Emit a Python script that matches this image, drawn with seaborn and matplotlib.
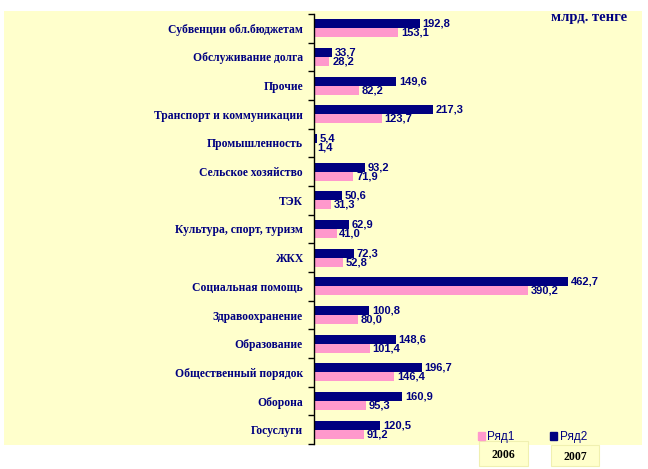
import numpy as np
import pandas as pd
import matplotlib
matplotlib.use('Agg')
import matplotlib.pyplot as plt
import matplotlib.patches as mpatches
import seaborn as sns

categories = ['Субвенции обл.бюджетам', 'Обслуживание долга', 'Прочие',
              'Транспорт и коммуникации', 'Промышленность', 'Сельское хозяйство',
              'ТЭК', 'Культура, спорт, туризм', 'ЖКХ', 'Социальная помощь',
              'Здравоохранение', 'Образование', 'Общественный порядок',
              'Оборона', 'Госуслуги']
row1_2006 = [153.1, 28.2, 82.2, 123.7, 1.4, 71.9, 31.3, 41.0, 52.8, 390.2,
             80.0, 101.4, 146.4, 95.3, 91.2]
row2_2007 = [192.8, 33.7, 149.6, 217.3, 5.4, 93.2, 50.6, 62.9, 72.3, 462.7,
             100.8, 148.6, 196.7, 160.9, 120.5]
series_names = ['Ряд1', 'Ряд2']
year_labels = ['2006', '2007']

navy = '#000080'
pink = '#FF99CC'
yellow = '#FFFFCC'

df = pd.DataFrame({'cat': categories * 2,
                   'val': row1_2006 + row2_2007,
                   'ser': ['Ряд1'] * len(categories) + ['Ряд2'] * len(categories)})

fig = plt.figure(figsize=(6.48, 4.69), dpi=100)
fig.patch.set_facecolor('white')
# yellow chart area
fig.patches.append(mpatches.Rectangle((4 / 648, 1 - 445 / 469), 638 / 648, 434 / 469,
                                      transform=fig.transFigure, facecolor=yellow,
                                      edgecolor='none', zorder=-10))

ax = fig.add_axes([314 / 648, 1 - 444 / 469, 326 / 648, 430 / 469])
ax.set_facecolor('none')
ax.patch.set_alpha(0)
sns.barplot(data=df, x='val', y='cat', hue='ser', hue_order=['Ряд2', 'Ряд1'],
            palette={'Ряд1': pink, 'Ряд2': navy}, orient='h', width=0.62,
            errorbar=None, legend=False, ax=ax, saturation=1)

ax.set_xlim(0, 594)
ax.set_ylim(len(categories) - 0.5, -0.5)
for c in ax.containers:
    ax.bar_label(c, labels=[f'{v:.1f}'.replace('.', ',') for v in c.datavalues],
                 padding=2, color=navy, fontsize=8, fontweight='bold',
                 family='Liberation Sans')

for s in ['top', 'right', 'bottom']:
    ax.spines[s].set_visible(False)
ax.spines['left'].set_color('black')
ax.spines['left'].set_linewidth(1)
ax.set_xticks([])
ax.set_xlabel('')
ax.set_ylabel('')
ax.set_yticks(range(len(categories)))
ax.set_yticklabels(categories, family='Liberation Serif', fontweight='bold',
                   fontsize=8.4, color=navy)
ax.tick_params(axis='y', which='major', length=0, pad=8)
ax.set_yticks(np.arange(-0.5, len(categories), 1), minor=True)
ax.tick_params(axis='y', which='minor', length=4, width=1, color='black')

fig.text(627 / 648, 1 - 18 / 469, 'млрд. тенге', ha='right', va='center',
         family='Liberation Serif', fontweight='bold', fontsize=10.5, color=navy)

# legend
handles = [mpatches.Patch(color=pink, label=series_names[0]),
           mpatches.Patch(color=navy, label=series_names[1])]
leg = fig.legend(handles=handles, loc='center left', bbox_to_anchor=(472 / 648, 1 - 437 / 469),
                 ncol=2, frameon=False, fontsize=8.5, handlelength=0.6, handleheight=0.6,
                 handletextpad=0.2, columnspacing=3.0, borderpad=0)
for t in leg.get_texts():
    t.set_color(navy)
    t.set_family('Liberation Sans')

# year boxes
for (x0, y0, x1, y1), lab in zip([(479, 441, 528, 466), (551, 445, 599, 466)], year_labels):
    fig.patches.append(mpatches.Rectangle((x0 / 648, 1 - y1 / 469), (x1 - x0) / 648,
                                          (y1 - y0) / 469, transform=fig.transFigure,
                                          facecolor=yellow, edgecolor='#F0F0B0',
                                          linewidth=0.8, zorder=1))
    fig.text((x0 + x1) / 2 / 648, 1 - ((y0 + y1) / 2 + 1) / 469, lab, ha='center',
             va='center', family='Liberation Serif', fontweight='bold', fontsize=8.5,
             color='black')

fig.savefig('out.png', dpi=100)
